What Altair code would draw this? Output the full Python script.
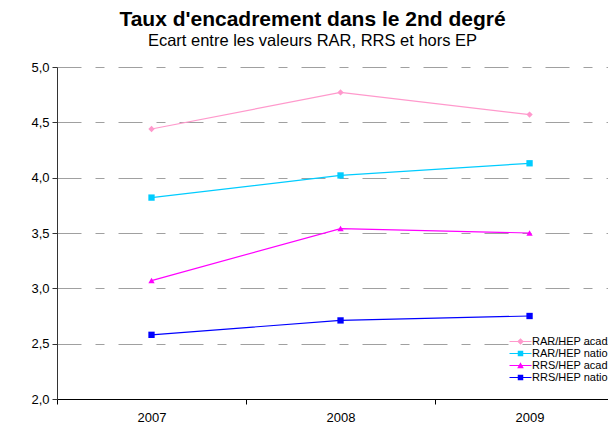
import altair as alt
import pandas as pd

years = [2007, 2008, 2009]
series_names = ["RAR/HEP acad", "RAR/HEP natio", "RRS/HEP acad", "RRS/HEP natio"]
rar_acad = [4.44, 4.77, 4.57]
rar_natio = [3.82, 4.02, 4.13]
rrs_acad = [3.07, 3.54, 3.50]
rrs_natio = [2.58, 2.71, 2.75]
colors = ["#FF99CC", "#00CCFF", "#FF00FF", "#0000FF"]
shapes = ["diamond", "square", "triangle-up", "square"]
legend_paths = [
    "M-2,-0.09H2V0.09H-2Z M0,-0.6L0.6,0L0,0.6L-0.6,0Z",
    "M-2,-0.09H2V0.09H-2Z M-0.5,-0.5H0.5V0.5H-0.5Z",
    "M-2,-0.09H2V0.09H-2Z M0,-0.6L0.6,0.5H-0.6Z",
    "M-2,-0.09H2V0.09H-2Z M-0.5,-0.5H0.5V0.5H-0.5Z",
]
y_ticks = [2.0, 2.5, 3.0, 3.5, 4.0, 4.5, 5.0]
x_ticks = [2006.5, 2007, 2007.5, 2008, 2008.5, 2009]
x_domain = [2006.5, 2009.415]

rows = []
for name, vals, col, shp in zip(series_names, [rar_acad, rar_natio, rrs_acad, rrs_natio], colors, shapes):
    for yr, v in zip(years, vals):
        rows.append({"Année": yr, "Série": name, "Valeur": v, "Couleur": col, "Marqueur": shp})
df = pd.DataFrame(rows)

FONT = "Liberation Sans"

x_enc = alt.X(
    "Année:Q",
    scale=alt.Scale(domain=x_domain, nice=False, zero=False),
    axis=alt.Axis(
        title=None,
        values=x_ticks,
        labelExpr="datum.value % 1 == 0 ? format(datum.value, 'd') : ''",
        grid=False,
        domainColor="#000000",
        tickColor="#000000",
        tickSize=5,
        tickOpacity={"condition": {"test": "datum.value % 1 != 0", "value": 1}, "value": 0},
        labelFont=FONT,
        labelFontSize=13,
        labelColor="#000000",
        labelPadding=7,
        labelFlush=False,
        labelOverlap=False,
    ),
)
y_enc = alt.Y(
    "Valeur:Q",
    scale=alt.Scale(domain=[2.0, 5.0], nice=False, zero=False),
    axis=alt.Axis(
        title=None,
        values=y_ticks,
        labelExpr="replace(format(datum.value, '.1f'), '.', ',')",
        grid=True,
        gridColor="#a0a0a0",
        gridDash=[24, 14, 9, 14],
        gridWidth=1,
        domainColor="#333333",
        tickColor="#333333",
        tickSize=5,
        labelFont=FONT,
        labelFontSize=13,
        labelColor="#000000",
        labelPadding=3,
    ),
)

lines = alt.Chart(df).mark_line(strokeWidth=1.2).encode(
    x=x_enc,
    y=y_enc,
    color=alt.Color("Couleur:N", scale=None),
    detail="Série:N",
)

points = alt.Chart(df).mark_point(filled=True, opacity=1, size=40).encode(
    x=x_enc,
    y=y_enc,
    color=alt.Color("Couleur:N", scale=None),
    shape=alt.Shape("Marqueur:N", scale=None),
)

legend_layer = alt.Chart(df).transform_filter("false").mark_point(filled=True, opacity=1).encode(
    x=x_enc,
    y=y_enc,
    color=alt.Color(
        "Série:N",
        scale=alt.Scale(domain=series_names, range=colors),
        legend=alt.Legend(
            title=None,
            orient="none",
            legendX=458,
            legendY=269,
            padding=0,
            rowPadding=0,
            symbolSize=121,
            symbolStrokeWidth=0,
            symbolOpacity=1,
            labelFont=FONT,
            labelFontSize=11,
            labelColor="#000000",
            labelOffset=6,
            symbolOffset=0,
        ),
    ),
    shape=alt.Shape("Série:N", scale=alt.Scale(domain=series_names, range=legend_paths)),
)

chart = (
    alt.layer(lines, points, legend_layer)
    .properties(
        width=551,
        height=332,
        autosize=alt.AutoSizeParams(type="none"),
        padding={"left": 49, "top": 59, "right": 0, "bottom": 24},
        title=alt.TitleParams(
            text="Taux d'encadrement dans le 2nd degré",
            subtitle="Ecart entre les valeurs RAR, RRS et hors EP",
            anchor="middle",
            dx=-20,
            font=FONT,
            fontSize=21,
            fontWeight="bold",
            color="#000000",
            subtitleFont=FONT,
            subtitleFontSize=16.5,
            subtitleColor="#000000",
            subtitlePadding=3,
            offset=12,
        ),
    )
    .configure_view(stroke=None)
)

chart.save("out.html", embed_options={"renderer": "svg", "actions": False})
